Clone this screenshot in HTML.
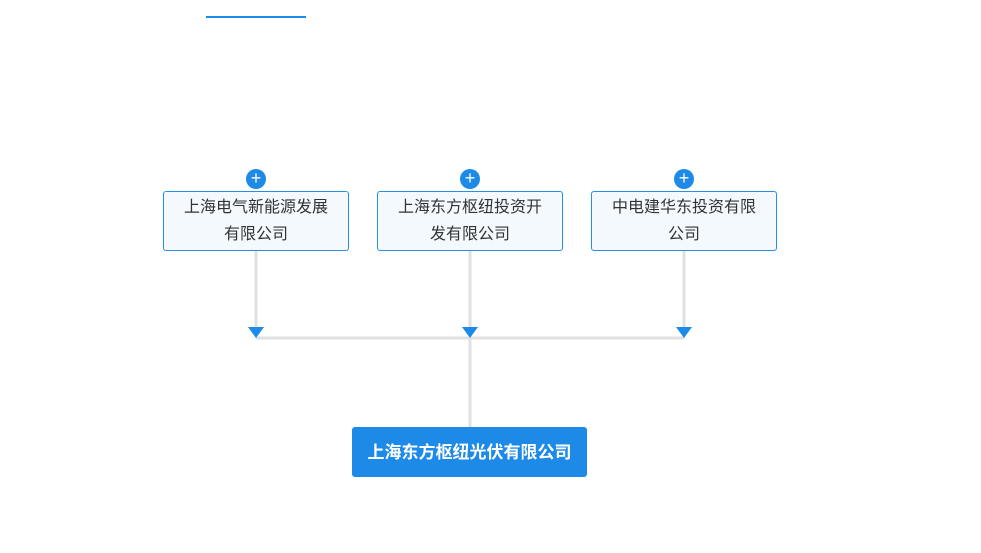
<!DOCTYPE html>
<html><head><meta charset="utf-8"><style>
body{margin:0;width:981px;height:553px;background:#fff;position:relative;overflow:hidden;font-family:"Liberation Sans","Noto Sans CJK SC",sans-serif}
.b{position:absolute;top:191px;width:184px;height:58px;border:1px solid #2a8de6;border-radius:3px;background:#f4f9fe;color:#333;font-size:16px;line-height:27px;text-align:center;display:flex;align-items:center;justify-content:center;box-sizing:content-box}
.p{position:absolute;top:169px;width:20px;height:20px;border-radius:50%;background:#1e8ae8;color:#fff;font-size:18px;line-height:19px;text-align:center}
</style></head><body>
<div style="position:absolute;left:206px;top:16px;width:100px;height:2px;background:#1e8ae8"></div>
<svg width="981" height="553" style="position:absolute;left:0;top:0">
<g stroke="#e0e0e0" stroke-width="3" fill="none">
<line x1="256" y1="251" x2="256" y2="330"/><line x1="470" y1="251" x2="470" y2="330"/><line x1="684" y1="251" x2="684" y2="330"/>
<line x1="256" y1="338" x2="684" y2="338"/><line x1="470" y1="338" x2="470" y2="428"/>
</g>
<g fill="#1e8ae8"><polygon points="248,327 264,327 256,338"/><polygon points="462,327 478,327 470,338"/><polygon points="676,327 692,327 684,338"/></g>
</svg>
<div class="b" style="left:163px">上海电气新能源发展<br>有限公司</div>
<div class="b" style="left:377px">上海东方枢纽投资开<br>发有限公司</div>
<div class="b" style="left:591px">中电建华东投资有限<br>公司</div>
<div class="p" style="left:246px">+</div><div class="p" style="left:460px">+</div><div class="p" style="left:674px">+</div>
<div style="position:absolute;left:352px;top:427px;width:235px;height:50px;background:#1e8ae8;border-radius:3px;color:#fff;font-weight:bold;font-size:17px;line-height:52px;text-align:center">上海东方枢纽光伏有限公司</div>
</body></html>
